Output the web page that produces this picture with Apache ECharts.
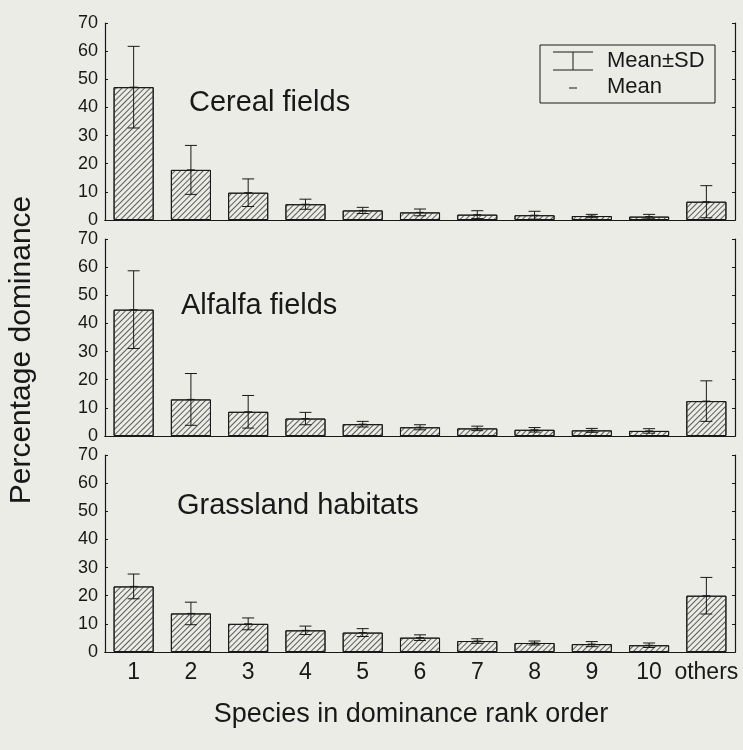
<!DOCTYPE html>
<html>
<head>
<meta charset="utf-8">
<script src="https://cdn.jsdelivr.net/npm/echarts@6/dist/echarts.min.js"></script>
<style>
  html, body { margin: 0; padding: 0; background: #ecece7; }
  #chart { width: 743px; height: 750px; }
</style>
</head>
<body>
<div id="chart"></div>
<script>
const categories = ['1', '2', '3', '4', '5', '6', '7', '8', '9', '10', 'others']
const yTicks = [0, 10, 20, 30, 40, 50, 60, 70]

const cerealMean = [47.2, 17.8, 9.7, 5.6, 3.4, 2.7, 1.9, 1.7, 1.4, 1.2, 6.5]
const cerealSD = [14.5, 8.7, 4.9, 1.8, 1.1, 1.2, 1.4, 1.4, 0.6, 0.8, 5.7]
const alfalfaMean = [44.9, 13.0, 8.6, 6.2, 4.2, 3.1, 2.7, 2.2, 2.0, 1.8, 12.4]
const alfalfaSD = [13.8, 9.2, 5.8, 2.2, 1.0, 0.9, 0.8, 0.8, 0.7, 0.8, 7.2]
const grassMean = [23.3, 13.7, 10.0, 7.7, 6.9, 5.1, 3.9, 3.2, 2.8, 2.4, 20.0]
const grassSD = [4.4, 4.0, 2.1, 1.5, 1.4, 1.0, 0.8, 0.7, 0.9, 0.8, 6.5]

const panels = [
  { title: 'Cereal fields', mean: cerealMean, sd: cerealSD },
  { title: 'Alfalfa fields', mean: alfalfaMean, sd: alfalfaSD },
  { title: 'Grassland habitats', mean: grassMean, sd: grassSD }
]

const ink = '#181818'
const font = 'Liberation Sans, Arial, sans-serif'
const gridTops = [23, 239, 455]

const chart = echarts.init(document.getElementById('chart'))

const grid = []
const xAxis = []
const yAxis = []
const series = []

panels.forEach((p, g) => {
  grid.push({ left: 105, width: 630, top: gridTops[g], height: 197 })
  // bottom and top category axes
  xAxis.push({
    type: 'category',
    gridIndex: g,
    data: categories,
    axisLine: { lineStyle: { color: ink, width: 1.2 } },
    axisTick: { inside: true, length: 3, lineStyle: { color: ink } },
    axisLabel: {
      show: g === 2,
      interval: 0,
      color: ink,
      fontSize: 23,
      fontFamily: font,
      margin: 9
    }
  })
  xAxis.push({
    type: 'category',
    gridIndex: g,
    position: 'top',
    data: categories,
    axisLine: { lineStyle: { color: ink, width: 1.2 } },
    axisTick: { inside: true, length: 3, lineStyle: { color: ink } },
    axisLabel: { show: false }
  })
  yAxis.push({
    type: 'value',
    gridIndex: g,
    min: yTicks[0],
    max: yTicks[yTicks.length - 1],
    interval: 10,
    axisLine: { show: true, lineStyle: { color: ink, width: 1.2 } },
    axisTick: { show: true, inside: true, length: 3, lineStyle: { color: ink } },
    splitLine: { show: false },
    axisLabel: { color: ink, fontSize: 18, fontFamily: font, margin: 7 }
  })
  yAxis.push({
    type: 'value',
    gridIndex: g,
    position: 'right',
    min: yTicks[0],
    max: yTicks[yTicks.length - 1],
    interval: 10,
    axisLine: { show: true, lineStyle: { color: ink, width: 1.2 } },
    axisTick: { show: true, inside: true, length: 3, lineStyle: { color: ink } },
    splitLine: { show: false },
    axisLabel: { show: false }
  })

  series.push({
    type: 'bar',
    xAxisIndex: g * 2,
    yAxisIndex: g * 2,
    barWidth: '70%',
    data: p.mean,
    itemStyle: {
      color: '#ecece7',
      borderColor: ink,
      borderWidth: 1,
      decal: {
        symbol: 'rect',
        symbolSize: 1,
        color: '#5a5a5a',
        dashArrayX: [1, 0],
        dashArrayY: [1, 2.6],
        rotation: -Math.PI / 4
      }
    },
    silent: true
  })

  // error bars: mean ± SD with caps, plus a short mean mark
  series.push({
    type: 'custom',
    xAxisIndex: g * 2,
    yAxisIndex: g * 2,
    silent: true,
    z: 5,
    data: p.mean.map((m, i) => [i, m, p.sd[i]]),
    renderItem: function (params, api) {
      const i = api.value(0)
      const m = api.value(1)
      const s = api.value(2)
      const top = api.coord([i, m + s])
      const bot = api.coord([i, Math.max(m - s, 0)])
      const mid = api.coord([i, m])
      const cap = 6
      const style = { stroke: ink, lineWidth: 1 }
      return {
        type: 'group',
        children: [
          { type: 'line', shape: { x1: top[0], y1: top[1], x2: bot[0], y2: bot[1] }, style },
          { type: 'line', shape: { x1: top[0] - cap, y1: top[1], x2: top[0] + cap, y2: top[1] }, style },
          { type: 'line', shape: { x1: bot[0] - cap, y1: bot[1], x2: bot[0] + cap, y2: bot[1] }, style },
          { type: 'line', shape: { x1: mid[0] - 4, y1: mid[1], x2: mid[0] + 4, y2: mid[1] }, style }
        ]
      }
    }
  })
})

const titleY = [103, 306, 506]
const titleX = [189, 181, 177]

const graphic = panels.map((p, g) => ({
  type: 'text',
  left: titleX[g],
  top: titleY[g] - 15,
  style: { text: p.title, fill: ink, font: '29px ' + font }
}))

// legend box
graphic.push(
  { type: 'rect', shape: { x: 540, y: 45, width: 175, height: 58 }, style: { fill: 'none', stroke: ink, lineWidth: 1 } },
  { type: 'line', shape: { x1: 553, y1: 52, x2: 593, y2: 52 }, style: { stroke: ink, lineWidth: 1 } },
  { type: 'line', shape: { x1: 553, y1: 70, x2: 593, y2: 70 }, style: { stroke: ink, lineWidth: 1 } },
  { type: 'line', shape: { x1: 573, y1: 52, x2: 573, y2: 70 }, style: { stroke: ink, lineWidth: 1 } },
  { type: 'line', shape: { x1: 569, y1: 88, x2: 577, y2: 88 }, style: { stroke: ink, lineWidth: 1 } },
  { type: 'text', left: 607, top: 50, style: { text: 'Mean±SD', fill: ink, font: '22px ' + font } },
  { type: 'text', left: 607, top: 76, style: { text: 'Mean', fill: ink, font: '22px ' + font } }
)

// axis names
graphic.push(
  {
    type: 'text',
    x: 22,
    y: 350,
    rotation: Math.PI / 2,
    style: { text: 'Percentage dominance', fill: ink, font: '30px ' + font, align: 'center', verticalAlign: 'middle' }
  },
  {
    type: 'text',
    x: 411,
    y: 715,
    style: { text: 'Species in dominance rank order', fill: ink, font: '27px ' + font, align: 'center', verticalAlign: 'middle' }
  }
)

chart.setOption({
  backgroundColor: '#ecece7',
  animation: false,
  grid,
  xAxis,
  yAxis,
  series,
  graphic
})
</script>
</body>
</html>
